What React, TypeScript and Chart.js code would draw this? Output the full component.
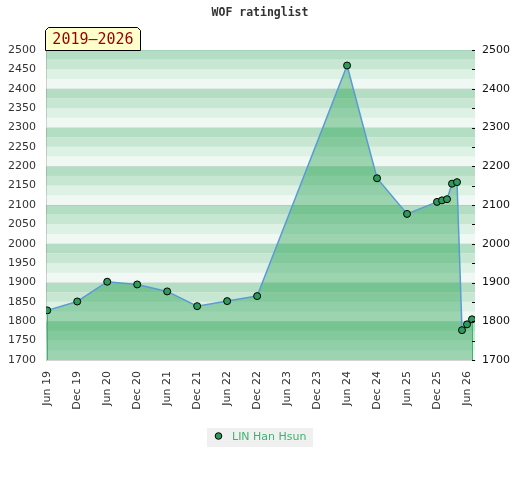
import React, { useEffect, useRef } from "react";
import { Chart, registerables } from "chart.js";

Chart.register(...registerables);

const titleText = "WOF ratinglist";
const badgeText = "2019–2026";
const seriesName = "LIN Han Hsun";

// months counted from Jun 2019
const tickMonths = [0, 6, 12, 18, 24, 30, 36, 42, 48, 54, 60, 66, 72, 78, 84];
const tickLabels = [
  "Jun 19", "Dec 19", "Jun 20", "Dec 20", "Jun 21", "Dec 21", "Jun 22", "Dec 22",
  "Jun 23", "Dec 23", "Jun 24", "Dec 24", "Jun 25", "Dec 25", "Jun 26",
];

const pointMonths = [0, 6, 12, 18, 24, 30, 36, 42, 60, 66, 72, 78, 79, 80, 81, 82, 83, 84, 85];
const ratings = [1828, 1851, 1902, 1895, 1877, 1839, 1852, 1865, 2460, 2169, 2077, 2108, 2112, 2115, 2155, 2159, 1777, 1792, 1805];

const yMin = 1700;
const yMax = 2500;

const stripeColors = ["#f0f8f3", "#ddf1e4", "#c8e7d3", "#b3dec4"];

const decorPlugin = {
  id: "decor",
  beforeDraw(chart: any) {
    const { ctx, chartArea: a, scales } = chart;
    const y = scales.y;
    ctx.save();
    ctx.fillStyle = "#ffffff";
    ctx.fillRect(0, 0, chart.width, chart.height);
    for (let v = yMin, i = 0; v < yMax; v += 25, i++) {
      const top = y.getPixelForValue(v + 25);
      const bot = y.getPixelForValue(v);
      ctx.fillStyle = stripeColors[i % 4];
      ctx.fillRect(a.left, top, a.right - a.left, bot - top);
    }
    ctx.restore();
  },
  afterDatasetsDraw(chart: any) {
    const { ctx, chartArea: a } = chart;
    const meta = chart.getDatasetMeta(0);
    const pts = meta.data;
    ctx.save();
    ctx.strokeStyle = "#3cb371";
    ctx.lineWidth = 1;
    [pts[0], pts[pts.length - 1]].forEach((p: any) => {
      const x = Math.round(p.x) + 0.5;
      ctx.beginPath();
      ctx.moveTo(x, p.y + 4);
      ctx.lineTo(x, a.bottom);
      ctx.stroke();
    });
    ctx.restore();
  },
  afterDraw(chart: any) {
    const { ctx, chartArea: a, scales } = chart;
    const y = scales.y;
    ctx.save();
    // right axis tick marks
    ctx.strokeStyle = "#000";
    ctx.lineWidth = 1;
    for (let v = yMin; v <= yMax; v += 50) {
      const py = Math.round(y.getPixelForValue(v)) + 0.5;
      ctx.beginPath();
      ctx.moveTo(a.right - 3, py);
      ctx.lineTo(a.right, py);
      ctx.stroke();
    }
    // title
    ctx.fillStyle = "#333";
    ctx.font = 'bold 11.5px "DejaVu Sans Mono"';
    ctx.textAlign = "center";
    ctx.textBaseline = "middle";
    ctx.fillText(titleText, 260, 13);
    // badge
    const bl = 45.5, br = 140.5, bt = 27.5, bb = 50.5, c = 3;
    ctx.beginPath();
    ctx.moveTo(bl, bb);
    ctx.lineTo(bl, bt + c);
    ctx.lineTo(bl + c, bt);
    ctx.lineTo(br - c, bt);
    ctx.lineTo(br, bt + c);
    ctx.lineTo(br, bb);
    ctx.closePath();
    ctx.fillStyle = "#ffffcc";
    ctx.fill();
    ctx.strokeStyle = "#000";
    ctx.stroke();
    ctx.fillStyle = "#990000";
    ctx.font = '15px "DejaVu Sans Mono"';
    ctx.textAlign = "center";
    ctx.fillText(badgeText, (bl + br) / 2, 40);
    // legend
    ctx.fillStyle = "#f0f0f0";
    ctx.fillRect(207, 428, 106, 19);
    ctx.beginPath();
    ctx.arc(218.5, 436, 3.3, 0, Math.PI * 2);
    ctx.fillStyle = "#2e9b5a";
    ctx.fill();
    ctx.strokeStyle = "#000";
    ctx.lineWidth = 1;
    ctx.stroke();
    ctx.fillStyle = "#3cb371";
    ctx.font = '11px "DejaVu Sans"';
    ctx.textAlign = "left";
    ctx.fillText(seriesName, 232, 437);
    ctx.restore();
  },
};

export default function App() {
  const ref = useRef<HTMLCanvasElement>(null);
  useEffect(() => {
    document.body.style.margin = "0";
    Chart.defaults.font.family = '"DejaVu Sans"';
    const chart = new Chart(ref.current!, {
      type: "line",
      data: {
        datasets: [
          {
            label: seriesName,
            data: pointMonths.map((m, i) => ({ x: m, y: ratings[i] })),
            borderColor: "#5b9bd5",
            borderWidth: 1.5,
            backgroundColor: "rgba(29,158,74,0.4)",
            fill: "start",
            tension: 0,
            pointRadius: 3.5,
            pointBackgroundColor: "#2e9b5a",
            pointBorderColor: "#000",
            pointBorderWidth: 1,
          },
        ],
      },
      options: {
        responsive: false,
        animation: false,
        devicePixelRatio: 1,
        layout: { padding: { top: 50, left: 0, right: 0, bottom: 0 } },
        plugins: {
          legend: { display: false },
          title: { display: false },
          tooltip: { enabled: false },
        },
        scales: {
          x: {
            type: "linear",
            min: -0.25,
            max: 85.6,
            grid: { display: false, drawTicks: false },
            border: { display: true, color: "rgba(0,0,0,0.12)" },
            afterBuildTicks: (scale: any) => {
              scale.ticks = tickMonths.map((v) => ({ value: v }));
            },
            afterFit: (scale: any) => {
              scale.height = 120;
            },
            ticks: {
              autoSkip: false,
              minRotation: 90,
              maxRotation: 90,
              padding: 11,
              color: "#333",
              font: { size: 11 },
              callback: (v: any) => {
                const i = tickMonths.indexOf(Number(v));
                return i >= 0 ? tickLabels[i] : "";
              },
            },
          },
          y: {
            type: "linear",
            position: "left",
            min: yMin,
            max: yMax,
            grid: {
              drawTicks: false,
              color: (ctx: any) =>
                ctx.tick && ctx.tick.value % 100 === 0 ? "rgba(0,0,0,0.05)" : "rgba(0,0,0,0)",
            },
            border: { display: true, color: "rgba(0,0,0,0.15)" },
            afterFit: (scale: any) => {
              scale.width = 46;
            },
            ticks: {
              stepSize: 50,
              padding: 10,
              color: "#333",
              font: { size: 11 },
              callback: (v: any) => String(v),
            },
          },
          y2: {
            type: "linear",
            position: "right",
            min: yMin,
            max: yMax,
            grid: { drawOnChartArea: false, drawTicks: false },
            border: { display: false },
            afterFit: (scale: any) => {
              scale.width = 45;
            },
            ticks: {
              stepSize: 50,
              padding: 7,
              color: "#111",
              font: { size: 11 },
              callback: (v: any) => (Number(v) % 100 === 0 ? String(v) : ""),
            },
          },
        },
      },
      plugins: [decorPlugin],
    } as any);
    return () => chart.destroy();
  }, []);
  return (
    <canvas ref={ref} width={520} height={480} style={{ display: "block" }} />
  );
}
